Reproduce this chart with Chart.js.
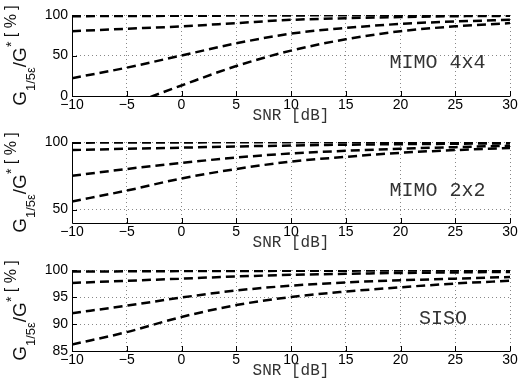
<!DOCTYPE html>
<html>
<head>
<meta charset="utf-8">
<script src="https://cdn.jsdelivr.net/npm/chart.js@4"></script>
<style>
  body { margin: 0; background: #fff; width: 519px; height: 390px; position: relative; overflow: hidden; }
  canvas { position: absolute; left: 0; }
</style>
</head>
<body>
<canvas id="c1" width="519" height="128" style="top:0px"></canvas>
<canvas id="c2" width="519" height="128" style="top:127px"></canvas>
<canvas id="c3" width="519" height="128" style="top:255px"></canvas>
<script>
// SNR axis (dB)
const snr = [-10, -5, 0, 5, 10, 15, 20, 25, 30];
const xTicks = [-10, -5, 0, 5, 10, 15, 20, 25, 30];

// MIMO 4x4 curves, G_{1/5eps}/G* in %
const mimo4A = [98.5, 98.8, 99.0, 99.3, 99.5, 99.6, 99.7, 99.8, 99.9];
const mimo4B = [80, 83, 86, 90, 94, 96, 97.5, 98.5, 99];
const mimo4C = [22, 35, 50, 65, 77, 84, 89, 92, 94];
const mimo4D = [-38, -12, 13, 37, 56, 70, 80, 86, 90];
const mimo4Ticks = [0, 50, 100];

// MIMO 2x2 curves
const mimo2A = [99.5, 99.6, 99.7, 99.75, 99.8, 99.85, 99.9, 99.9, 99.95];
const mimo2B = [94, 95, 95.8, 96.7, 97.4, 98, 98.4, 98.7, 99];
const mimo2C = [75, 80, 84.5, 88.5, 91.5, 93.5, 95, 96.2, 97.2];
const mimo2D = [56, 64, 73, 80, 85.5, 89, 92, 94, 95.5];
const mimo2Ticks = [50, 100];

// SISO curves
const sisoA = [99.7, 99.75, 99.8, 99.82, 99.85, 99.88, 99.9, 99.92, 99.95];
const sisoB = [97.6, 98, 98.4, 98.8, 99.1, 99.3, 99.45, 99.55, 99.65];
const sisoC = [92, 93.4, 94.9, 96.2, 97.1, 97.7, 98.1, 98.4, 98.7];
const sisoD = [86.2, 88.5, 91.3, 93.5, 95, 96, 96.8, 97.5, 98];
const sisoTicks = [85, 90, 95, 100];

const minus = v => String(v).replace('-', '\u2212');

// axes lines, inward ticks, panel label, x title and the TeX-like y title
const panelDecor = {
  id: 'panelDecor',
  afterDraw(chart, args, opts) {
    const ctx = chart.ctx, a = chart.chartArea;
    const xs = chart.scales.x, ys = chart.scales.y;
    ctx.save();
    ctx.strokeStyle = '#000';
    ctx.lineWidth = 1;
    ctx.beginPath();
    ctx.moveTo(a.left + 0.5, a.top);
    ctx.lineTo(a.left + 0.5, a.bottom + 0.5);
    ctx.lineTo(a.right + 0.5, a.bottom + 0.5);
    ctx.stroke();
    ctx.beginPath();
    xs.ticks.forEach(t => {
      const px = Math.round(xs.getPixelForValue(t.value)) + 0.5;
      ctx.moveTo(px, a.bottom);
      ctx.lineTo(px, a.bottom - 5);
    });
    ys.ticks.forEach(t => {
      const py = Math.round(ys.getPixelForValue(t.value)) + 0.5;
      ctx.moveTo(a.left, py);
      ctx.lineTo(a.left + 5, py);
    });
    ctx.stroke();

    ctx.fillStyle = '#333';
    ctx.font = '20px "Liberation Mono"';
    ctx.textBaseline = 'alphabetic';
    ctx.fillText(opts.text, xs.getPixelForValue(opts.x), ys.getPixelForValue(opts.y));

    ctx.font = '16px "Liberation Mono"';
    ctx.textAlign = 'center';
    ctx.fillText('SNR [dB]', (a.left + a.right) / 2, a.bottom + 24);
    ctx.textAlign = 'left';

    // y title: G_{1/5ε}/G^* [%]
    const parts = [
      { t: 'G', size: 19, dy: 0 },
      { t: '1/5\u03b5', size: 13, dy: 9 },
      { t: '/G', size: 19, dy: 0 },
      { t: '*', size: 14, dy: -10 },
      { t: ' [ % ]', size: 16, dy: -10 }
    ];
    let total = 0;
    parts.forEach(p => {
      ctx.font = p.size + 'px "Liberation Sans"';
      p.w = ctx.measureText(p.t).width;
      total += p.w;
    });
    ctx.translate(26, (a.top + a.bottom) / 2);
    ctx.rotate(-Math.PI / 2);
    ctx.fillStyle = '#111';
    let x = -total / 2;
    parts.forEach(p => {
      ctx.font = p.size + 'px "Liberation Sans"';
      ctx.fillText(p.t, x, p.dy);
      x += p.w;
    });
    ctx.restore();
  }
};

function makePanel(id, series, yMin, yMax, yTicks, label) {
  const datasets = series.map(s => ({
    data: snr.map((v, i) => ({ x: v, y: s[i] })),
    borderColor: '#000',
    borderWidth: 2.5,
    borderDash: [9, 5],
    pointRadius: 0,
    fill: false,
    cubicInterpolationMode: 'monotone'
  }));
  return new Chart(document.getElementById(id), {
    type: 'line',
    data: { datasets },
    options: {
      responsive: false,
      animation: false,
      events: [],
      layout: { padding: { top: 15, right: 9, left: 0, bottom: 0 } },
      plugins: {
        legend: { display: false },
        tooltip: { enabled: false },
        panelDecor: label
      },
      scales: {
        x: {
          type: 'linear',
          min: -10,
          max: 30,
          afterBuildTicks: sc => { sc.ticks = xTicks.map(v => ({ value: v })); },
          afterFit: sc => { sc.height = 32; },
          grid: { color: '#888', lineWidth: 1, drawTicks: false },
          border: { display: false, dash: [1, 3] },
          ticks: {
            color: '#000',
            padding: 1,
            maxRotation: 0,
            font: { family: 'Liberation Sans', size: 14 },
            callback: v => minus(v)
          }
        },
        y: {
          min: yMin,
          max: yMax,
          afterBuildTicks: sc => { sc.ticks = yTicks.map(v => ({ value: v })); },
          afterFit: sc => { sc.width = 72; },
          grid: { color: '#888', lineWidth: 1, drawTicks: false },
          border: { display: false, dash: [1, 3] },
          ticks: {
            color: '#000',
            padding: 4,
            font: { family: 'Liberation Sans', size: 14 },
            callback: v => minus(v)
          }
        }
      }
    },
    plugins: [panelDecor]
  });
}

makePanel('c1', [mimo4A, mimo4B, mimo4C, mimo4D], 0, 100, mimo4Ticks, { text: 'MIMO 4x4', x: 19, y: 35 });
makePanel('c2', [mimo2A, mimo2B, mimo2C, mimo2D], 40, 100, mimo2Ticks, { text: 'MIMO 2x2', x: 19, y: 60 });
makePanel('c3', [sisoA, sisoB, sisoC, sisoD], 85, 100, sisoTicks, { text: 'SISO', x: 21.7, y: 90 });
</script>
</body>
</html>
